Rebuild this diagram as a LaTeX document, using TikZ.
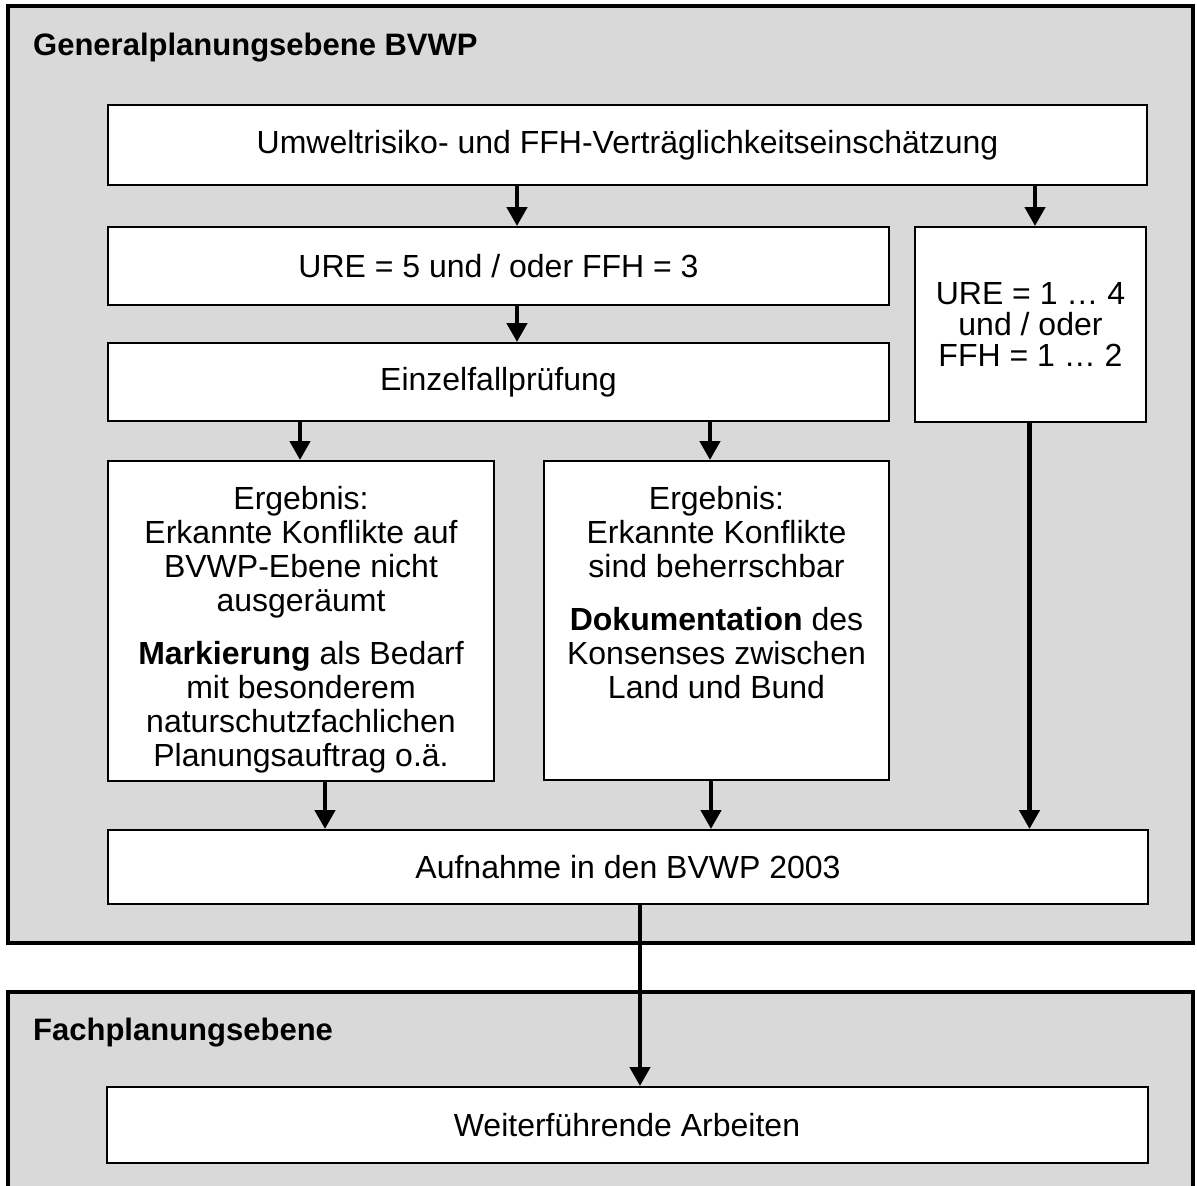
\documentclass[tikz,border=0pt]{standalone}
\usepackage{fontspec}
\setmainfont{Liberation Sans}
\usepackage{tikz}
\usetikzlibrary{arrows.meta}
\definecolor{dotgray}{gray}{0.85}

\begin{document}
\begin{tikzpicture}[x=1pt,y=-1pt,
	frame/.style={draw,line width=3.5pt,fill=dotgray},
	box/.style={draw,line width=2pt,fill=white,inner sep=0pt,font=\fontsize{32}{34}\selectfont},
	boxtext/.style={inner sep=0pt,align=center,font=\fontsize{32}{34}\selectfont},
	title/.style={inner sep=0pt,anchor=base west,font=\fontsize{31}{34}\selectfont\bfseries},
	arr/.style={line width=4.5pt,-{Triangle[width=20pt,length=19pt]}}]
	\useasboundingbox (0,0) rectangle (1197,1186);
	\clip (0,0) rectangle (1197,1186);
	\draw (600.5,474.5) node(gen) [frame,minimum width=1185pt,minimum height=937pt] {};
	\draw (600.5,1100) node(fach) [frame,minimum width=1185pt,minimum height=216pt] {};
	\draw (33,55) node(genT) [title] {Generalplanungsebene BVWP};
	\draw (33,1040) node(fachT) [title] {Fachplanungsebene};
	\draw (627.5,145) node(umw) [box,minimum width=1039pt,minimum height=80pt] {Umweltrisiko- und FFH-Verträglichkeitseinschätzung};
	\draw (498.5,266) node(ureA) [box,minimum width=781pt,minimum height=78pt] {URE = 5 und / oder FFH = 3};
	\draw (1030.5,324.5) node(ureB) [box,minimum width=231pt,minimum height=195pt,align=center,font=\fontsize{32}{31}\selectfont] {URE = 1 … 4\\und / oder\\FFH = 1 … 2};
	\draw (498.5,382) node(einz) [box,minimum width=781pt,minimum height=78pt] {Einzelfallprüfung};
	\draw (301,621) node(ergA) [box,minimum width=386pt,minimum height=320pt] {};
	\draw (716.5,620.5) node(ergB) [box,minimum width=345pt,minimum height=319pt] {};
	\draw ([yshift=-25pt]ergA.north) node(txtA) [boxtext,anchor=north] {\strut Ergebnis:\\Erkannte Konflikte auf\\BVWP-Ebene nicht\\ausgeräumt\\[19pt]\textbf{Markierung} als Bedarf\\mit besonderem\\naturschutzfachlichen\\Planungsauftrag o.ä.};
	\draw ([yshift=-25pt]ergB.north) node(txtB) [boxtext,anchor=north] {\strut Ergebnis:\\Erkannte Konflikte\\sind beherrschbar\\[19pt]\textbf{Dokumentation} des\\Konsenses zwischen\\Land und Bund};
	\draw (628,867) node(aufn) [box,minimum width=1040pt,minimum height=74pt] {Aufnahme in den BVWP 2003};
	\draw (627,1125) node(weit) [box,minimum width=1041pt,minimum height=76pt] {Weiterführende Arbeiten};
	\path[draw,arr] ([xshift=18.5pt]ureA.north |- umw.south) -- ([xshift=18.5pt]ureA.north);
	\path[draw,arr] ([xshift=4.5pt]ureB.north |- umw.south) -- ([xshift=4.5pt]ureB.north);
	\path[draw,arr] ([xshift=18.5pt]ureA.south) -- ([xshift=18.5pt]einz.north);
	\path[draw,arr] ([xshift=-1pt]ergA.north |- einz.south) -- ([xshift=-1pt]ergA.north);
	\path[draw,arr] ([xshift=-6.5pt]ergB.north |- einz.south) -- ([xshift=-6.5pt]ergB.north);
	\path[draw,arr] ([xshift=24pt]ergA.south) -- ([xshift=24pt]ergA.south |- aufn.north);
	\path[draw,arr] ([xshift=-5.5pt]ergB.south) -- ([xshift=-5.5pt]ergB.south |- aufn.north);
	\path[draw,arr] ([xshift=-1pt]ureB.south) -- ([xshift=-1pt]ureB.south |- aufn.north);
	\path[draw,arr] ([xshift=12pt]aufn.south) -- ([xshift=12pt]aufn.south |- weit.north);
\end{tikzpicture}
\end{document}
